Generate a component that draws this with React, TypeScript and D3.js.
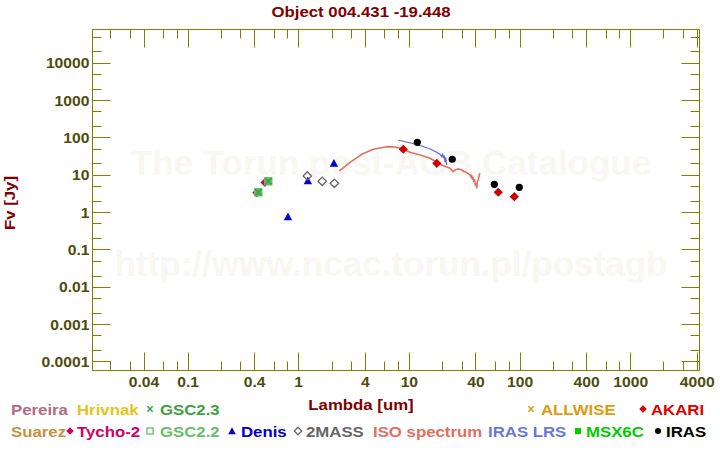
import React from "react";
import * as d3 from "d3";

const W = 720;
const H = 450;

const titleText = "Object 004.431 -19.448";
const xTitle = "Lambda [um]";
const yTitle = "Fv [Jy]";

const xTickValues = [0.04, 0.1, 0.4, 1, 4, 10, 40, 100, 400, 1000, 4000];
const xTickLabels = ["0.04", "0.1", "0.4", "1", "4", "10", "40", "100", "400", "1000", "4000"];
const xMinorMult = [2, 3, 6, 8];
const yTickValues = [1e-4, 1e-3, 0.01, 0.1, 1, 10, 100, 1000, 10000];
const yTickLabels = ["0.0001", "0.001", "0.01", "0.1", "1", "10", "100", "1000", "10000"];
const yMinorMult = [2, 5];

// photometry: [lambda (um), flux (Jy)]
const tycho2 = [[0.418, 3.39], [0.495, 6.4]];
const gsc22 = [[0.431, 3.5], [0.531, 6.89]];
const gsc23 = [[0.431, 3.5], [0.531, 6.89]];
const denis = [[0.8, 0.776], [1.21, 7.15], [2.08, 20.9]];
const twoMass = [[1.196, 9.55], [1.63, 6.89], [2.1, 6.09]];
const akari = [[8.81, 49.6], [17.7, 20.9], [63.6, 3.5], [88.8, 2.67]];
const iras = [[11.8, 76.3], [24.4, 26.8], [58.6, 5.73], [98.5, 4.76]];

// spectra
const isoSpectrum = [
  [2.33, 13.0], [2.91, 22.2], [3.71, 36.4], [4.72, 49.6], [6.24, 58.2], [7.42, 57.1],
  [8.81, 50.5], [10.1, 41.2], [12.5, 34.9], [15.4, 28.5], [19.6, 18.8], [23.3, 15.4],
  [24.9, 12.5], [26.0, 13.9], [27.5, 14.8], [29.5, 14.0], [31.0, 12.8], [31.8, 12.5],
  [35.3, 10.2], [36.0, 8.9], [36.5, 10.0], [37.0, 8.0], [37.5, 8.8], [38.2, 6.8],
  [38.8, 7.5], [39.5, 5.5], [40.2, 5.8], [40.6, 4.6], [41.2, 6.8], [42.0, 7.8],
  [43.0, 10.5], [43.5, 11.3],
];
const irasLrs = [
  [7.94, 88], [9.14, 79], [10.5, 71.8], [12.5, 62.7], [15.4, 50.5], [17.7, 41.2],
  [19.0, 36], [19.6, 31.4], [20.0, 38], [20.3, 28.5], [20.6, 34], [21.0, 22.2],
  [21.3, 30], [21.7, 18.8],
];

const legendRow1 = [
  { name: "Pereira", color: "#b36a86", marker: "", mx: 0, tx: 11 },
  { name: "Hrivnak", color: "#e5c41a", marker: "", mx: 0, tx: 77 },
  { name: "GSC2.3", color: "#3f9f3f", marker: "x", mx: 150, tx: 160 },
  { name: "ALLWISE", color: "#e09a10", marker: "x", mx: 531, tx: 541 },
  { name: "AKARI", color: "#dd0000", marker: "diamond", mx: 643, tx: 651 },
];
const legendRow2 = [
  { name: "Suarez", color: "#c8903c", marker: "", mx: 0, tx: 11 },
  { name: "Tycho-2", color: "#cc0066", marker: "diamond", mx: 70, tx: 77 },
  { name: "GSC2.2", color: "#66c066", marker: "square", mx: 150, tx: 160 },
  { name: "Denis", color: "#0000cc", marker: "triangle", mx: 232, tx: 241 },
  { name: "2MASS", color: "#666666", marker: "odiamond", mx: 298, tx: 306 },
  { name: "ISO spectrum", color: "#e07060", marker: "", mx: 0, tx: 373 },
  { name: "IRAS LRS", color: "#6677dd", marker: "", mx: 0, tx: 488 },
  { name: "MSX6C", color: "#00cc00", marker: "fsquare", mx: 578, tx: 586 },
  { name: "IRAS", color: "#000000", marker: "circle", mx: 658, tx: 666 },
];

const PL = 92.5, PR = 699.5, PT = 29.5, PB = 370.5;
const FRAME = "#808000";
const TICKTXT = "#4d4d0d";
const MAROON = "#800000";
const FONT = "'Liberation Sans', Arial, Helvetica, sans-serif";
const SX = 1.12;

const x = d3.scaleLog().domain([0.01369, 4188]).range([PL, PR]);
const y = d3.scaleLog().domain([5.92e-5, 79800]).range([PB, PT]);

function Txt({ x: tx, y: ty, anchor = "start", size = 15, color, rotate = 0, sx = SX, children }: any) {
  return (
    <text
      transform={`translate(${tx},${ty})${rotate ? ` rotate(${rotate})` : ""} scale(${sx},1)`}
      textAnchor={anchor}
      fontFamily={FONT}
      fontWeight="bold"
      fontSize={size}
      fill={color}
    >
      {children}
    </text>
  );
}

function Marker({ type, cx, cy, s, color }: any) {
  switch (type) {
    case "diamond":
      return <path d={`M${cx},${cy - s}L${cx + s},${cy}L${cx},${cy + s}L${cx - s},${cy}Z`} fill={color} />;
    case "odiamond":
      return (
        <path d={`M${cx},${cy - s}L${cx + s},${cy}L${cx},${cy + s}L${cx - s},${cy}Z`} fill="none" stroke={color} strokeWidth={1.3} />
      );
    case "circle":
      return <circle cx={cx} cy={cy} r={s * 0.8} fill={color} />;
    case "triangle":
      return <path d={`M${cx},${cy - s}L${cx + s},${cy + s * 0.85}L${cx - s},${cy + s * 0.85}Z`} fill={color} />;
    case "square":
      return <rect x={cx - s * 0.8} y={cy - s * 0.8} width={s * 1.6} height={s * 1.6} fill="none" stroke={color} strokeWidth={1.3} />;
    case "fsquare":
      return <rect x={cx - s * 0.8} y={cy - s * 0.8} width={s * 1.6} height={s * 1.6} fill={color} />;
    case "x":
      return (
        <path d={`M${cx - s * 0.7},${cy - s * 0.7}L${cx + s * 0.7},${cy + s * 0.7}M${cx - s * 0.7},${cy + s * 0.7}L${cx + s * 0.7},${cy - s * 0.7}`} stroke={color} strokeWidth={1.5} />
      );
    default:
      return null;
  }
}

const snap = (v: number) => Math.floor(v) + 0.5;

export default function App() {
  const [xd0, xd1] = x.domain();
  const [yd0, yd1] = y.domain();
  const xMinor: number[] = [];
  for (let k = -3; k <= 4; k++) {
    for (const m of xMinorMult) {
      const v = m * Math.pow(10, k);
      if (v >= xd0 && v <= xd1) xMinor.push(v);
    }
  }
  const yMinor: number[] = [];
  for (let k = -5; k <= 5; k++) {
    for (const m of yMinorMult) {
      const v = m * Math.pow(10, k);
      if (v >= yd0 && v <= yd1) yMinor.push(v);
    }
  }
  const line = d3
    .line<number[]>()
    .x((d) => x(d[0]))
    .y((d) => y(d[1]));

  const MAJ = 18, MIN = 9;

  return (
    <div style={{ position: "absolute", left: 0, top: 0, width: W, height: H, background: "#fff" }}>
      <svg width={W} height={H} style={{ display: "block" }}>
        <rect x={0} y={0} width={W} height={H} fill="#ffffff" />
        {/* watermarks */}
        <text x={391} y={175} textAnchor="middle" fontFamily={FONT} fontWeight="bold" fontSize={35} fill="#f9f7f2">
          The Torun post-AGB Catalogue
        </text>
        <text x={391} y={276} textAnchor="middle" fontFamily={FONT} fontWeight="bold" fontSize={35} fill="#f9f7f2">
          http://www.ncac.torun.pl/postagb
        </text>

        {/* ticks */}
        <g stroke={FRAME} strokeWidth={1}>
          {xTickValues.map((v) => (
            <g key={"xm" + v}>
              <line x1={snap(x(v))} x2={snap(x(v))} y1={PB} y2={PB - MAJ} />
              <line x1={snap(x(v))} x2={snap(x(v))} y1={PT} y2={PT + MAJ} />
            </g>
          ))}
          {xMinor.map((v) => (
            <g key={"xn" + v}>
              <line x1={snap(x(v))} x2={snap(x(v))} y1={PB} y2={PB - MIN} />
              <line x1={snap(x(v))} x2={snap(x(v))} y1={PT} y2={PT + MIN} />
            </g>
          ))}
          {yTickValues.map((v) => (
            <g key={"ym" + v}>
              <line x1={PL} x2={PL + MAJ} y1={snap(y(v))} y2={snap(y(v))} />
              <line x1={PR} x2={PR - MAJ} y1={snap(y(v))} y2={snap(y(v))} />
            </g>
          ))}
          {yMinor.map((v) => (
            <g key={"yn" + v}>
              <line x1={PL} x2={PL + MIN} y1={snap(y(v))} y2={snap(y(v))} />
              <line x1={PR} x2={PR - MIN} y1={snap(y(v))} y2={snap(y(v))} />
            </g>
          ))}
        </g>
        <rect x={PL} y={PT} width={PR - PL} height={PB - PT} fill="none" stroke={FRAME} strokeWidth={1} />

        {/* tick labels */}
        {xTickValues.map((v, i) => (
          <Txt key={"xl" + v} x={x(v)} y={387} anchor="middle" size={14} color={TICKTXT}>
            {xTickLabels[i]}
          </Txt>
        ))}
        {yTickValues.map((v, i) => (
          <Txt key={"yl" + v} x={89.5} y={y(v) + 5} anchor="end" size={14} color={TICKTXT}>
            {yTickLabels[i]}
          </Txt>
        ))}

        {/* spectra */}
        <path d={line(isoSpectrum as any) || ""} fill="none" stroke="#e07060" strokeWidth={1.6} strokeLinejoin="round" />
        <path d={line(irasLrs as any) || ""} fill="none" stroke="#5a6ad8" strokeWidth={1.1} />

        {/* photometry */}
        {tycho2.map((d, i) => (
          <Marker key={"ty" + i} type="diamond" cx={x(d[0])} cy={y(d[1])} s={4.5} color="#cc0066" />
        ))}
        {gsc22.map((d, i) => (
          <rect key={"g2" + i} x={x(d[0]) - 3.7} y={y(d[1]) - 3.7} width={7.4} height={7.4} fill="#5cbc5c" stroke="#66c066" />
        ))}
        {gsc23.map((d, i) => (
          <Marker key={"g3" + i} type="x" cx={x(d[0])} cy={y(d[1])} s={4.6} color="#3f9f3f" />
        ))}
        {denis.map((d, i) => (
          <Marker key={"de" + i} type="triangle" cx={x(d[0])} cy={y(d[1])} s={4.2} color="#0000cc" />
        ))}
        {twoMass.map((d, i) => (
          <Marker key={"tm" + i} type="odiamond" cx={x(d[0])} cy={y(d[1])} s={4.2} color="#666666" />
        ))}
        {akari.map((d, i) => (
          <Marker key={"ak" + i} type="diamond" cx={x(d[0])} cy={y(d[1])} s={4.6} color="#cc0000" />
        ))}
        {iras.map((d, i) => (
          <circle key={"ir" + i} cx={x(d[0])} cy={y(d[1])} r={3.6} fill="#000000" />
        ))}

        {/* titles */}
        <Txt x={361} y={17} anchor="middle" size={15} color={MAROON}>
          {titleText}
        </Txt>
        <Txt x={361} y={409.5} anchor="middle" size={15} color={MAROON}>
          {xTitle}
        </Txt>
        <Txt x={15} y={203} anchor="middle" size={15} color={MAROON} rotate={-90}>
          {yTitle}
        </Txt>

        {/* legend */}
        {legendRow1.map((e) => (
          <g key={"l1" + e.name}>
            {e.marker && <Marker type={e.marker} cx={e.mx} cy={409} s={3.8} color={e.color} />}
            <Txt x={e.tx} y={414.5} size={15} color={e.color}>
              {e.name}
            </Txt>
          </g>
        ))}
        {legendRow2.map((e) => (
          <g key={"l2" + e.name}>
            {e.marker && <Marker type={e.marker} cx={e.mx} cy={431} s={3.8} color={e.color} />}
            <Txt x={e.tx} y={436.5} size={15} color={e.color}>
              {e.name}
            </Txt>
          </g>
        ))}
      </svg>
    </div>
  );
}
